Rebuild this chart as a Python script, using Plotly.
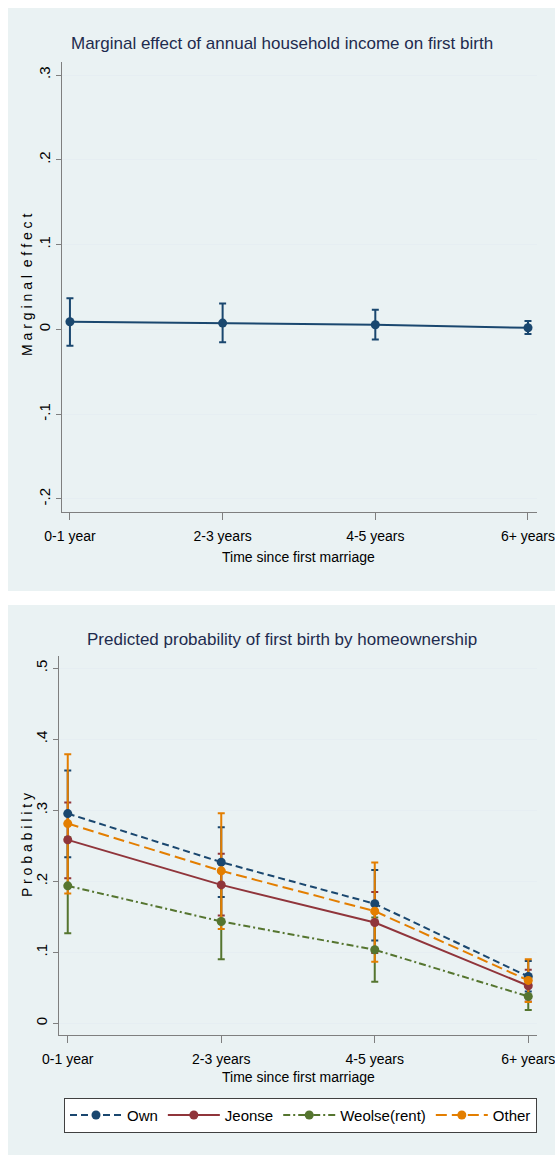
import numpy as np
import plotly.graph_objects as go

# ---------------- data ----------------
categories = ["0-1 year", "2-3 years", "4-5 years", "6+ years"]

# Panel 1: marginal effect of income
me_est = [0.0090, 0.0074, 0.0055, 0.0019]
me_lo = [-0.0193, -0.0153, -0.0118, -0.0055]
me_hi = [0.0366, 0.0306, 0.0232, 0.0098]

# Panel 2: predicted probability by homeownership
own_est = [0.2954, 0.2270, 0.1684, 0.0660]
own_lo = [0.2340, 0.1780, 0.1168, 0.0450]
own_hi = [0.3560, 0.2760, 0.2160, 0.0880]

jeonse_est = [0.2584, 0.1950, 0.1420, 0.0530]
jeonse_lo = [0.2045, 0.1520, 0.0990, 0.0310]
jeonse_hi = [0.3110, 0.2387, 0.1850, 0.0755]

weolse_est = [0.1937, 0.1435, 0.1037, 0.0380]
weolse_lo = [0.1270, 0.0905, 0.0587, 0.0189]
weolse_hi = [0.2620, 0.1970, 0.1490, 0.0570]

other_est = [0.2813, 0.2148, 0.1580, 0.0605]
other_lo = [0.1830, 0.1330, 0.0868, 0.0300]
other_hi = [0.3790, 0.2960, 0.2265, 0.0905]

top_ticks = [0.3, 0.2, 0.1, 0.0, -0.1, -0.2]
top_ticklabels = [".3", ".2", ".1", "0", "-.1", "-.2"]
bot_ticks = [0.5, 0.4, 0.3, 0.2, 0.1, 0.0]
bot_ticklabels = [".5", ".4", ".3", ".2", ".1", "0"]

# ---------------- style ----------------
W, H = 555, 1155
FONT = "Liberation Sans, Arial, sans-serif"
PANEL_BG = "#eaf2f3"
GRID = "#e6eef2"
AXIS = "#7f7f7f"
NAVY = "#1a476f"
MAROON = "#90353b"
GREEN = "#55752f"
ORANGE = "#e37e00"
TITLE_C = "#1e2b4e"

def px_x(v):
    return v / W

def px_y(v):
    return 1 - v / H

x = np.arange(len(categories))

fig = go.Figure()

def add_series(name, est, lo, hi, color, dash, xa, ya, showlegend):
    est = np.array(est); lo = np.array(lo); hi = np.array(hi)
    fig.add_trace(go.Scatter(
        x=x, y=est, mode="markers", xaxis=xa, yaxis=ya,
        marker=dict(size=0.1, color=color, opacity=0),
        error_y=dict(type="data", array=hi - est, arrayminus=est - lo,
                     color=color, thickness=2, width=3.5),
        showlegend=False, hoverinfo="skip"))
    return (name, est, color, dash, xa, ya, showlegend)

lines = []
lines.append(add_series("Marginal effect", me_est, me_lo, me_hi, NAVY, "solid", "x", "y", False))
lines.append(add_series("Own", own_est, own_lo, own_hi, NAVY, "7px,4px", "x2", "y2", True))
lines.append(add_series("Jeonse", jeonse_est, jeonse_lo, jeonse_hi, MAROON, "solid", "x2", "y2", True))
lines.append(add_series("Weolse(rent)", weolse_est, weolse_lo, weolse_hi, GREEN, "7px,3px,2px,3px", "x2", "y2", True))
lines.append(add_series("Other", other_est, other_lo, other_hi, ORANGE, "11px,5px", "x2", "y2", True))

for name, est, color, dash, xa, ya, sl in lines:
    fig.add_trace(go.Scatter(
        x=x, y=est, mode="lines+markers", name=name, xaxis=xa, yaxis=ya,
        line=dict(color=color, width=2, dash=dash),
        marker=dict(size=9, color=color),
        showlegend=sl))

shapes = [
    dict(type="rect", xref="paper", yref="paper", layer="below",
         x0=px_x(8), x1=1, y0=px_y(591), y1=px_y(8),
         fillcolor=PANEL_BG, line=dict(width=0)),
    dict(type="rect", xref="paper", yref="paper", layer="below",
         x0=px_x(8), x1=1, y0=0, y1=px_y(605),
         fillcolor=PANEL_BG, line=dict(width=0)),
]

tickfont = dict(family=FONT, size=14, color="black")

common_x = dict(
    tickmode="array", tickvals=list(x), ticktext=categories,
    showline=True, linecolor=AXIS, linewidth=1, ticks="outside",
    ticklen=7, tickcolor=AXIS, tickwidth=1, showgrid=False, zeroline=False,
    tickfont=tickfont, fixedrange=True, automargin=False,
    ticklabeloverflow="allow", ticklabelstandoff=4)

common_y = dict(
    showline=True, linecolor=AXIS, linewidth=1, ticks="outside",
    ticklen=5, tickcolor=AXIS, tickwidth=1, showgrid=True, gridcolor=GRID,
    gridwidth=1, zeroline=False, tickangle=-90,
    tickfont=dict(family=FONT, size=15, color="black"),
    fixedrange=True, automargin=False, ticklabeloverflow="allow")

fig.update_layout(
    width=W, height=H,
    margin=dict(l=0, r=0, t=0, b=0, autoexpand=False),
    paper_bgcolor="white", plot_bgcolor="white",
    font=dict(family=FONT, color="black"),
    shapes=shapes,
    xaxis=dict(domain=[px_x(62), px_x(537)], range=[-0.052, 3.059],
               anchor="y", **common_x),
    yaxis=dict(domain=[px_y(512.3), px_y(61.7)], range=[-0.2157, 0.3157],
               tickmode="array", tickvals=top_ticks, ticktext=top_ticklabels,
               anchor="x", **common_y),
    xaxis2=dict(domain=[px_x(59), px_x(536.7)], range=[-0.057, 3.055],
                anchor="y2", **common_x),
    yaxis2=dict(domain=[px_y(1035), px_y(656)], range=[-0.0163, 0.5172],
                tickmode="array", tickvals=bot_ticks, ticktext=bot_ticklabels,
                anchor="x2", **common_y),
    legend=dict(
        orientation="h", x=px_x(64), y=px_y(1097.7), xanchor="left", yanchor="top",
        bgcolor="white", bordercolor="#404040", borderwidth=1,
        font=dict(family=FONT, size=15, color="black"),
        itemwidth=52, traceorder="normal"),
    annotations=[
        dict(text="Marginal effect of annual household income on first birth",
             x=px_x(282), y=px_y(44), xref="paper", yref="paper",
             xanchor="center", yanchor="middle", showarrow=False,
             font=dict(family=FONT, size=17, color=TITLE_C)),
        dict(text="Predicted probability of first birth by homeownership",
             x=px_x(282), y=px_y(639), xref="paper", yref="paper",
             xanchor="center", yanchor="middle", showarrow=False,
             font=dict(family=FONT, size=17, color=TITLE_C)),
        dict(text="Time since first marriage",
             x=px_x(298), y=px_y(557), xref="paper", yref="paper",
             xanchor="center", yanchor="middle", showarrow=False,
             font=dict(family=FONT, size=14, color="black")),
        dict(text="Time since first marriage",
             x=px_x(298), y=px_y(1077), xref="paper", yref="paper",
             xanchor="center", yanchor="middle", showarrow=False,
             font=dict(family=FONT, size=14, color="black")),
        dict(text="M a r g i n a l  e f f e c t",
             x=px_x(27), y=px_y(285), xref="paper", yref="paper",
             xanchor="center", yanchor="middle", showarrow=False, textangle=-90,
             font=dict(family=FONT, size=14, color="black")),
        dict(text="P r o b a b i l i t y",
             x=px_x(27), y=px_y(845), xref="paper", yref="paper",
             xanchor="center", yanchor="middle", showarrow=False, textangle=-90,
             font=dict(family=FONT, size=14, color="black")),
    ],
)

fig.write_html("out.html")
